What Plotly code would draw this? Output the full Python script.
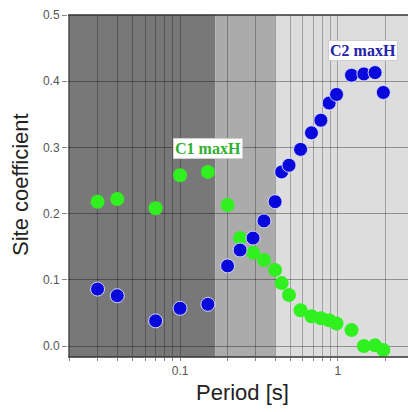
import math
import plotly.graph_objects as go

# Spectral periods [s]
periods = [0.03, 0.04, 0.07, 0.10, 0.15, 0.20, 0.24, 0.29, 0.34, 0.40, 0.44,
           0.49, 0.58, 0.68, 0.78, 0.88, 0.98, 1.22, 1.46, 1.72, 1.94]

# Site coefficients (maximum horizontal component)
c1_maxh = [0.218, 0.222, 0.208, 0.258, 0.263, 0.213, 0.163, 0.141, 0.130, 0.115, 0.095,
           0.077, 0.054, 0.045, 0.042, 0.039, 0.034, 0.024, 0.000, 0.001, -0.006]
c2_maxh = [0.086, 0.076, 0.038, 0.057, 0.063, 0.121, 0.145, 0.163, 0.189, 0.218, 0.263,
           0.273, 0.297, 0.322, 0.341, 0.367, 0.380, 0.409, 0.411, 0.413, 0.383]

# Shaded period bands: (start, end, colour)
band_edges = [0.0195, 0.167, 0.40, 2.8]
band_colors = ["#787878", "#ababab", "#dddddd"]

# Vertical grid positions (log decades with sub-divisions)
grid_periods = [0.02, 0.03, 0.04, 0.05, 0.06, 0.07, 0.08, 0.09,
                0.1, 0.2, 0.3, 0.4, 0.5, 0.6, 0.7, 0.8, 0.9, 1, 2]
labelled_periods = {0.1: "0.1", 1: "1"}

y_ticks = [0.0, 0.1, 0.2, 0.3, 0.4, 0.5]

fig = go.Figure()

fig.add_trace(go.Scatter(
    x=periods, y=c1_maxh, mode="markers", name="C1 maxH",
    marker=dict(size=14, color="#30f020",
                line=dict(width=0)),
))
fig.add_trace(go.Scatter(
    x=periods, y=c2_maxh, mode="markers", name="C2 maxH",
    marker=dict(size=14, color="#0808dc",
                line=dict(width=1, color="rgba(225,225,255,0.9)")),
))

shapes = []
for i, col in enumerate(band_colors):
    shapes.append(dict(type="rect", xref="x", yref="paper",
                       x0=band_edges[i], x1=band_edges[i + 1], y0=0, y1=1,
                       fillcolor=col, line=dict(width=0), layer="below"))
# top and bottom frame lines
shapes.append(dict(type="line", xref="paper", yref="paper", x0=0, x1=1, y0=1, y1=1,
                   line=dict(color="#333333", width=1.5)))
shapes.append(dict(type="line", xref="paper", yref="paper", x0=0, x1=1, y0=0, y1=0,
                   line=dict(color="#333333", width=1.5)))

annotations = [
    dict(text="<b>C1 maxH</b>", x=math.log10(0.151), y=0.298, xref="x", yref="y",
         showarrow=False, font=dict(family="Liberation Serif", size=16, color="#2fb02f"),
         bgcolor="white", bordercolor="#cfcfcf", borderwidth=1, borderpad=1),
    dict(text="<b>C2 maxH</b>", x=math.log10(1.44), y=0.447, xref="x", yref="y",
         showarrow=False, font=dict(family="Liberation Serif", size=16, color="#2222aa"),
         bgcolor="white", bordercolor="#cfcfcf", borderwidth=1, borderpad=1),
    dict(text="Period [s]", x=243, y=392, xref="paper", yref="paper",
         xanchor="center", yanchor="middle",
         showarrow=False, font=dict(family="Liberation Sans", size=22, color="#222222")),
    dict(text="Site coefficient", x=20, y=185, xref="paper", yref="paper",
         xanchor="center", yanchor="middle",
         textangle=-90, showarrow=False,
         font=dict(family="Liberation Sans", size=22, color="#222222")),
]

W, H = 409, 412
L, R, T, B = 68, 1, 15, 55
pw, ph = W - L - R, H - T - B
# convert pixel positions of the axis titles to paper coordinates
for a in annotations[2:]:
    a["x"] = (a["x"] - L) / pw
    a["y"] = (H - B - a["y"]) / ph

fig.update_layout(
    width=W, height=H,
    margin=dict(l=L, r=R, t=T, b=B),
    paper_bgcolor="white", plot_bgcolor="white",
    showlegend=False,
    shapes=shapes, annotations=annotations,
    xaxis=dict(type="log", range=[math.log10(0.0195), math.log10(2.78)],
               tickvals=grid_periods,
               ticktext=[labelled_periods.get(p, "") for p in grid_periods],
               showgrid=True, gridcolor="rgba(0,0,0,0.28)", gridwidth=1,
               ticks="outside", ticklen=3, tickcolor="#888888",
               tickfont=dict(family="Liberation Sans", size=12, color="#555555"),
               zeroline=False, showline=False),
    yaxis=dict(range=[-0.0166, 0.5], tickvals=y_ticks,
               ticktext=[f"{v:.1f}" for v in y_ticks],
               showgrid=True, gridcolor="rgba(0,0,0,0.35)", gridwidth=1,
               ticks="outside", ticklen=5, tickcolor="#888888",
               tickfont=dict(family="Liberation Sans", size=12, color="#555555"),
               zeroline=False, showline=False),
)

fig.write_html("out.html")
